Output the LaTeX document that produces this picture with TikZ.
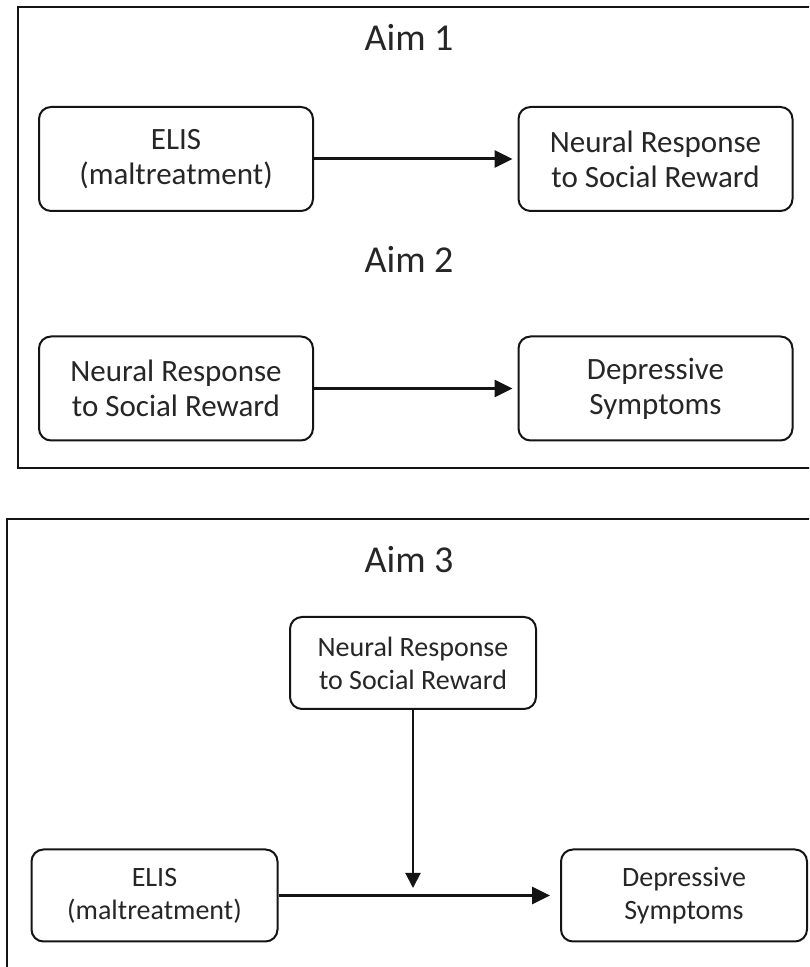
\documentclass[tikz,border=0pt]{standalone}
\usepackage{fontspec}
\setmainfont{Carlito}
\usepackage{xcolor}
\usepackage{tikz}
\usetikzlibrary{arrows.meta, positioning, calc}
\definecolor{aimdark}{RGB}{38,38,38}
\definecolor{aimline}{RGB}{20,20,20}

\tikzset{
  aimbox/.style={draw=aimline, line width=1pt, rounded corners=6pt, fill=white,
    align=center, text=aimdark, inner sep=2pt,
    minimum width=137pt, minimum height=52pt,
    font=\fontsize{15.5}{17.5}\selectfont},
  aimboxsm/.style={aimbox, minimum width=123pt, minimum height=46pt,
    font=\fontsize{14}{16.5}\selectfont},
  aimlabel/.style={text=aimdark, anchor=base, font=\fontsize{19}{22}\selectfont},
  aimarrow/.style={aimline, line width=1.5pt,
    -{Triangle[length=9pt, width=8.5pt]}, shorten >=2.5pt},
}

\begin{document}
\begin{tikzpicture}[x=0.5pt, y=0.5pt]
\clip (0,0) rectangle (809,967);
\fill[white] (0,0) rectangle (809,967);

% frames
\draw[aimline, line width=1pt] (18,960) rectangle (830,499);
\draw[aimline, line width=1pt] (7,448) rectangle (830,-20);

% ---- Aim 1 ----
\node[aimlabel] (aimone) at (409,916) {Aim 1};
\node[aimbox] (elisA) at (176,808) {ELIS\\(maltreatment)};
\node[aimbox] (neurA) at (655.5,808) {Neural Response\\to Social Reward};
\draw[aimarrow] (elisA) -- (neurA);

% ---- Aim 2 ----
\node[aimlabel] (aimtwo) at (409,694) {Aim 2};
\node[aimbox] (neurB) at (176,578.5) {Neural Response\\to Social Reward};
\node[aimbox] (deprB) at (655.5,578.5) {Depressive\\Symptoms};
\draw[aimarrow] (neurB) -- (deprB);

% ---- Aim 3 ----
\node[aimlabel] (aimthree) at (409,394) {Aim 3};
\node[aimboxsm] (neurC) at (413,304) {Neural Response\\to Social Reward};
\node[aimboxsm] (elisC) at (154.5,71.5) {ELIS\\(maltreatment)};
\node[aimboxsm] (deprC) at (684,71.5) {Depressive\\Symptoms};
\coordinate (modtip) at (413,79);
\draw[aimarrow, shorten >=5pt] (elisC) -- (deprC);
\draw[aimline, line width=1pt, -{Triangle[length=7.5pt, width=7.5pt]}]
  (neurC.south) -- (modtip);
\end{tikzpicture}
\end{document}
